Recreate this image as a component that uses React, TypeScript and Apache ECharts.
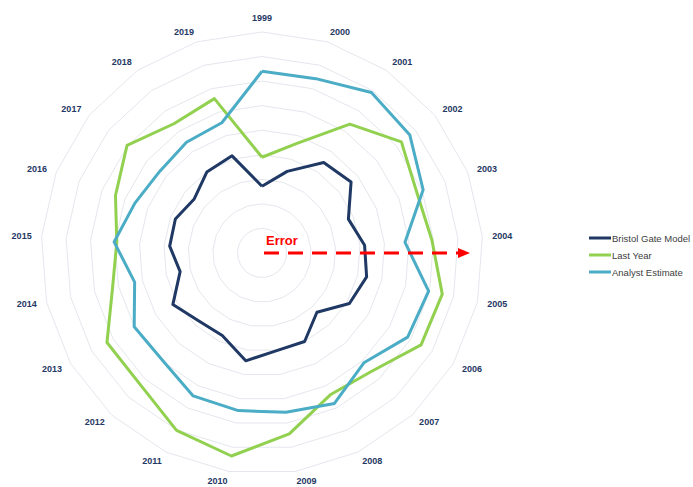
import React, { useEffect, useRef } from "react";
import * as echarts from "echarts";

const years = [
  "1999", "2000", "2001", "2002", "2003", "2004", "2005", "2006", "2007", "2008", "2009",
  "2010", "2011", "2012", "2013", "2014", "2015", "2016", "2017", "2018", "2019",
];

const bristolGate = [
  2.72, 3.48, 4.46, 4.64, 3.78, 4.19, 4.37, 4.11, 3.29, 4.0, 4.02,
  4.44, 3.73, 3.78, 4.19, 3.42, 3.77, 3.79, 3.53, 3.99, 4.14,
];

const lastYear = [
  3.9, 4.65, 6.35, 7.26, 6.77, 6.94, 7.53, 7.48, 6.57, 6.41, 7.45,
  8.36, 8.02, 7.3, 7.29, 6.24, 5.93, 6.41, 7.03, 6.37, 6.58,
];

const analystEstimate = [
  7.4, 7.43, 7.91, 7.7, 7.05, 5.84, 6.96, 6.85, 6.1, 6.8, 6.56,
  6.49, 6.46, 5.96, 6.01, 5.32, 6.04, 5.56, 5.33, 5.46, 5.55,
];

const seriesNames = ["Bristol Gate Model", "Last Year", "Analyst Estimate"];
const seriesColors = ["#1f3864", "#92d050", "#4bacc6"];
const axisMax = 9;

// ECharts radar runs counter-clockwise; reorder so the categories run clockwise.
function clockwiseOrder<T>(arr: T[]): T[] {
  return [arr[0], ...arr.slice(1).reverse()];
}

export default function App() {
  const ref = useRef<HTMLDivElement>(null);

  useEffect(() => {
    if (!ref.current) return;
    const chart = echarts.init(ref.current, undefined, { renderer: "svg" });
    const values = [bristolGate, lastYear, analystEstimate];
    chart.setOption({
      animation: false,
      backgroundColor: "#ffffff",
      legend: {
        orient: "vertical",
        left: 584,
        top: 228,
        itemWidth: 22,
        itemHeight: 3,
        itemGap: 7,
        icon: "rect",
        data: seriesNames,
        textStyle: {
          color: "#404040",
          fontSize: 9.5,
          fontFamily: "Liberation Sans",
          padding: [0, 0, 0, -4],
        },
      },
      radar: {
        center: [262, 253],
        radius: 221,
        startAngle: 90,
        shape: "polygon",
        splitNumber: 9,
        nameGap: 10,
        indicator: clockwiseOrder(years).map((y) => ({ name: y, max: axisMax, min: 0 })),
        axisName: {
          color: "#1f3864",
          fontSize: 9,
          fontWeight: "bold",
          fontFamily: "Liberation Sans",
        },
        splitLine: { lineStyle: { color: "#e4e7ed", width: 1 } },
        splitArea: { show: false },
        axisLine: { show: false },
        axisTick: { show: false },
        axisLabel: { show: false },
      },
      series: [
        {
          type: "radar",
          symbol: "none",
          data: seriesNames.map((n, i) => ({
            name: n,
            value: clockwiseOrder(values[i]),
            lineStyle: { color: seriesColors[i], width: 3 },
            itemStyle: { color: seriesColors[i] },
          })),
        },
      ],
      graphic: [
        {
          type: "line",
          shape: { x1: 264, y1: 253, x2: 458, y2: 253 },
          style: { stroke: "#ff0000", lineWidth: 3, lineDash: [15, 9] },
          z: 100,
        },
        {
          type: "polygon",
          shape: { points: [[458, 248], [470, 253], [458, 258]] },
          style: { fill: "#ff0000" },
          z: 100,
        },
        {
          type: "text",
          x: 266,
          y: 234,
          style: {
            text: "Error",
            fill: "#ff0000",
            font: "bold 13px Liberation Sans",
          },
          z: 100,
        },
      ],
    });
    return () => chart.dispose();
  }, []);

  return (
    <div
      ref={ref}
      style={{ position: "fixed", left: 0, top: 0, width: 693, height: 487 }}
    />
  );
}
